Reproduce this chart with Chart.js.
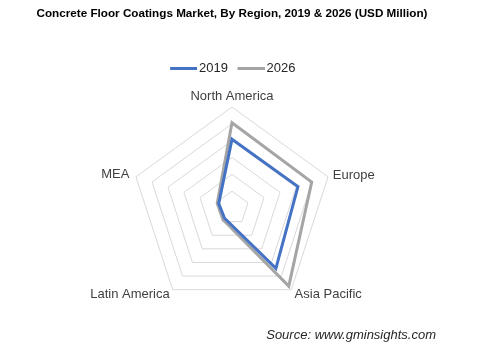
<!DOCTYPE html>
<html>
<head>
<meta charset="utf-8">
<script src="https://cdn.jsdelivr.net/npm/chart.js@4/dist/chart.umd.min.js"></script>
<style>
  html, body { margin: 0; padding: 0; background: #fff; }
  #wrap { width: 480px; height: 351px; position: relative; }
</style>
</head>
<body>
<div id="wrap"><canvas id="radarChart"></canvas></div>
<script>
const regiones = ['North America', 'Europe', 'Asia Pacific', 'Latin America', 'MEA'];
const valores2019 = [2045, 2060, 2220, 375, 415];
const valores2026 = [2535, 2490, 2870, 440, 460];
const escalaMax = 3000;
const escalaPaso = 500;

const colores = { '2019': '#4472C4', '2026': '#A5A5A5' };

// separacion y alto de linea de cada etiqueta, para dejarlas como en la imagen
const etiquetaPadding = [6, 5, 5.5, 5, 7];
const etiquetaAlto = ['9px', '0px', '0px', '2px', '0px'];

// muestra de linea para la leyenda (un poco desplazada a la derecha)
function muestraLinea(color) {
    const c = document.createElement('canvas');
    c.width = 33;
    c.height = 3;
    const g = c.getContext('2d');
    g.fillStyle = color;
    g.fillRect(6, 0, 27, 3);
    return c;
}

const fuente = {
    id: 'fuente',
    afterDraw(chart) {
        const ctx = chart.ctx;
        ctx.save();
        ctx.font = 'italic 13px "Liberation Sans", Arial, sans-serif';
        ctx.fillStyle = '#262626';
        ctx.textAlign = 'right';
        ctx.textBaseline = 'middle';
        ctx.fillText('Source: www.gminsights.com', 436, 335);
        ctx.restore();
    }
};

const ctx = document.getElementById('radarChart').getContext('2d');
Chart.defaults.font.family = '"Liberation Sans", Arial, sans-serif';

new Chart(ctx, {
    type: 'radar',
    data: {
        labels: regiones,
        datasets: [{
            label: '2019',
            data: valores2019,
            borderColor: colores['2019'],
            backgroundColor: colores['2019'],
            borderWidth: 3,
            fill: false,
            pointRadius: 0
        }, {
            label: '2026',
            data: valores2026,
            borderColor: colores['2026'],
            backgroundColor: colores['2026'],
            borderWidth: 3,
            fill: false,
            pointRadius: 0
        }]
    },
    options: {
        responsive: true,
        maintainAspectRatio: false,
        animation: false,
        layout: {
            padding: { top: 0, bottom: 33, left: 0, right: 16 }
        },
        plugins: {
            title: {
                display: true,
                text: 'Concrete Floor Coatings Market, By Region, 2019 & 2026 (USD Million)',
                color: '#000',
                font: { size: 11.7, weight: 'bold' },
                padding: { top: 7, bottom: 33 }
            },
            legend: {
                display: true,
                labels: {
                    usePointStyle: true,
                    pointStyleWidth: 24,
                    padding: 8,
                    color: '#262626',
                    font: { size: 13 },
                    generateLabels: function(chart) {
                        return chart.data.datasets.map((ds, i) => ({
                            text: ds.label,
                            pointStyle: muestraLinea(ds.borderColor),
                            fillStyle: ds.borderColor,
                            strokeStyle: ds.borderColor,
                            lineWidth: 0,
                            datasetIndex: i,
                            fontColor: '#262626'
                        }));
                    }
                }
            },
            tooltip: { enabled: false }
        },
        scales: {
            r: {
                min: 0,
                max: escalaMax,
                ticks: { stepSize: escalaPaso, display: false },
                grid: { color: '#D9D9D9', lineWidth: 1 },
                angleLines: { display: false },
                pointLabels: {
                    color: '#404040',
                    padding: (c) => etiquetaPadding[c.index],
                    font: (c) => ({ size: 13, lineHeight: etiquetaAlto[c.index] })
                }
            }
        }
    },
    plugins: [fuente]
});
</script>
</body>
</html>
